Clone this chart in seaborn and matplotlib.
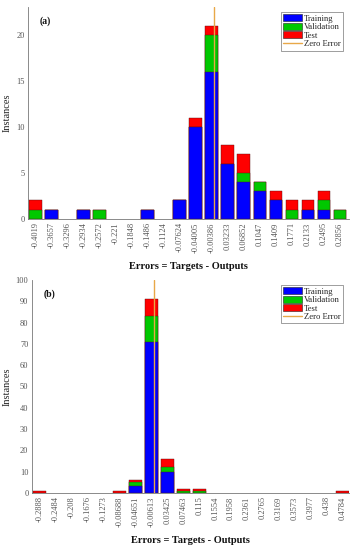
import numpy as np
import pandas as pd
import matplotlib
matplotlib.use("Agg")
import matplotlib.pyplot as plt
import seaborn as sns
from matplotlib.patches import Patch, Rectangle
from matplotlib.lines import Line2D

# ---------------- data ----------------
labels_a = ["-0.4019", "-0.3657", "-0.3296", "-0.2934", "-0.2572", "-0.221", "-0.1848",
            "-0.1486", "-0.1124", "-0.07624", "-0.04005", "-0.00386", "0.03233", "0.06852",
            "0.1047", "0.1409", "0.1771", "0.2133", "0.2495", "0.2856"]
train_a = [0, 1, 0, 1, 0, 0, 0, 1, 0, 2, 10, 16, 6, 4, 3, 2, 0, 1, 1, 0]
valid_a = [1, 0, 0, 0, 1, 0, 0, 0, 0, 0, 0, 4, 0, 1, 1, 0, 1, 0, 1, 1]
test_a = [1, 0, 0, 0, 0, 0, 0, 0, 0, 0, 1, 1, 2, 2, 0, 1, 1, 1, 1, 0]

labels_b = ["-0.2888", "-0.2484", "-0.208", "-0.1676", "-0.1273", "-0.08688", "-0.04651",
            "-0.00613", "0.03425", "0.07463", "0.115", "0.1554", "0.1958", "0.2361",
            "0.2765", "0.3169", "0.3573", "0.3977", "0.438", "0.4784"]
train_b = [0, 0, 0, 0, 0, 0, 3, 71, 10, 0, 0, 0, 0, 0, 0, 0, 0, 0, 0, 0]
valid_b = [0, 0, 0, 0, 0, 0, 2, 12, 2, 1, 1, 0, 0, 0, 0, 0, 0, 0, 0, 0]
test_b = [1, 0, 0, 0, 0, 1, 1, 8, 4, 1, 1, 0, 0, 0, 0, 0, 0, 0, 0, 1]

C_TRAIN = "#0000FF"
C_VALID = "#00C800"
C_TEST = "#FF0000"
C_ZERO = "#E8A848"

sns.set_theme(style="white")
plt.rcParams["font.family"] = ["Liberation Serif", "DejaVu Serif"]

fig = plt.figure(figsize=(3.54, 5.5), dpi=100)
ax_a = fig.add_axes([0.079, 0.602, 0.907, 0.385])
ax_b = fig.add_axes([0.090, 0.104, 0.896, 0.387])


def draw(ax, labels, tr, va, te, ylim, yticks, tag, xlim):
    tr = np.array(tr)
    va = np.array(va)
    te = np.array(te)
    df = pd.DataFrame({"bin": labels, "train": tr, "tv": tr + va, "all": tr + va + te})
    kw = dict(x="bin", order=labels, width=0.8, ax=ax, edgecolor="#5a1010",
              linewidth=0.3, saturation=1)
    sns.barplot(data=df, y="all", color=C_TEST, **kw)
    sns.barplot(data=df, y="tv", color=C_VALID, **kw)
    sns.barplot(data=df, y="train", color=C_TRAIN, **kw)
    for p in ax.patches:
        if isinstance(p, Rectangle) and p.get_height() == 0:
            p.set_linewidth(0)
    # zero-error line position from bin centres
    centers = np.array([float(s) for s in labels])
    bw = centers[1] - centers[0]
    k = int(np.argmin(np.abs(centers)))
    xz = k + (0 - centers[k]) / bw
    ax.axvline(xz, color=C_ZERO, lw=1.0, zorder=5)
    ax.set_ylim(*ylim)
    ax.set_xlim(*xlim)
    ax.set_yticks(yticks)
    ax.set_xticks(range(len(labels)))
    ax.set_xticklabels(labels, rotation=90)
    ax.tick_params(axis="both", labelsize=6, colors="#555555", direction="in",
                   length=2, width=0.5, pad=2.5)
    ax.set_xlabel("Errors = Targets - Outputs", fontsize=7.5, fontweight="bold",
                  color="#111111", labelpad=7)
    ax.set_ylabel("Instances", fontsize=7.5, color="#222222", labelpad=3)
    for s in ["top", "right"]:
        ax.spines[s].set_visible(False)
    for s in ["left", "bottom"]:
        ax.spines[s].set_color("#777777")
        ax.spines[s].set_linewidth(0.6)
    ax.text(0.037, 0.92, tag, transform=ax.transAxes, fontsize=7, fontweight="bold",
            color="#111111")
    handles = [Patch(facecolor=C_TRAIN, edgecolor="#222222", lw=0.4),
               Patch(facecolor=C_VALID, edgecolor="#222222", lw=0.4),
               Patch(facecolor=C_TEST, edgecolor="#222222", lw=0.4),
               Line2D([0], [0], color=C_ZERO, lw=1)]
    leg = ax.legend(handles, ["Training", "Validation", "Test", "Zero Error"],
                    loc="upper right", bbox_to_anchor=(0.985, 0.985), fontsize=6.2,
                    frameon=True, fancybox=False, handlelength=2.2, handleheight=0.9,
                    handletextpad=0.2, labelspacing=0.0, borderpad=0.25,
                    borderaxespad=0.2)
    leg.get_frame().set_edgecolor("#555555")
    leg.get_frame().set_linewidth(0.5)


draw(ax_a, labels_a, train_a, valid_a, test_a, (0, 23), [0, 5, 10, 15, 20], "(a)",
     (-0.47, 19.56))
draw(ax_b, labels_b, train_b, valid_b, test_b, (0, 100),
     [0, 10, 20, 30, 40, 50, 60, 70, 80, 90, 100], "(b)", (-0.5, 19.4))

fig.savefig("out.png", dpi=100)
